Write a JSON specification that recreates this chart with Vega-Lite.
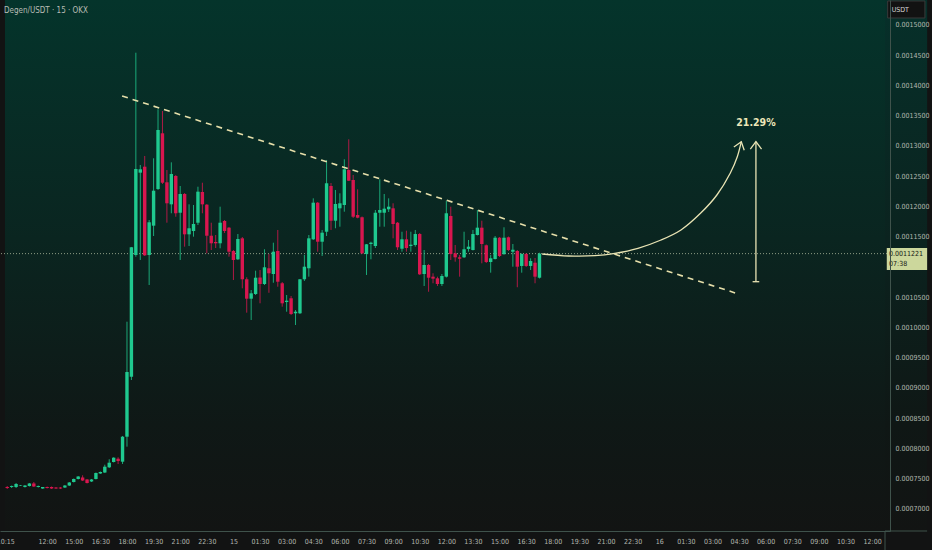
{
  "$schema": "https://vega.github.io/schema/vega-lite/v6.json",
  "description": "Degen/USDT 15m candles with descending trendline and projected breakout",
  "width": 890,
  "height": 531,
  "autosize": {"type": "none"},
  "padding": {"left": 0, "top": 0, "right": 42, "bottom": 19},
  "background": "#121313",
  "title": {
    "text": "Degen/USDT · 15 · OKX",
    "anchor": "start",
    "frame": "group",
    "orient": "top",
    "offset": 0,
    "baseline": "top",
    "dx": 4,
    "dy": 15,
    "fontSize": 8,
    "fontWeight": "normal",
    "font": "DejaVu Sans Condensed, sans-serif",
    "color": "#b9bcb5"
  },
  "config": {
    "view": {"stroke": null},
    "axis": {
      "labelFont": "DejaVu Sans Condensed, sans-serif",
      "labelFontSize": 7,
      "labelColor": "#b3b7b0",
      "domainColor": "#3f524b",
      "ticks": false,
      "grid": false,
      "labelOverlap": false,
      "labelFlush": false,
      "zindex": 1
    }
  },
  "datasets": {
    "candles": [
      {"t": -15, "o": 0.0007364, "h": 0.0007380, "l": 0.0007331, "c": 0.0007347},
      {"t": -14, "o": 0.0007364, "h": 0.0007388, "l": 0.0007347, "c": 0.0007380},
      {"t": -13, "o": 0.0007364, "h": 0.0007430, "l": 0.0007347, "c": 0.0007413},
      {"t": -12, "o": 0.0007388, "h": 0.0007397, "l": 0.0007380, "c": 0.0007397},
      {"t": -11, "o": 0.0007364, "h": 0.0007397, "l": 0.0007355, "c": 0.0007388},
      {"t": -10, "o": 0.0007380, "h": 0.0007430, "l": 0.0007372, "c": 0.0007422},
      {"t": -9, "o": 0.0007422, "h": 0.0007446, "l": 0.0007364, "c": 0.0007372},
      {"t": -8, "o": 0.0007364, "h": 0.0007388, "l": 0.0007355, "c": 0.0007380},
      {"t": -7, "o": 0.0007339, "h": 0.0007364, "l": 0.0007331, "c": 0.0007364},
      {"t": -6, "o": 0.0007364, "h": 0.0007372, "l": 0.0007339, "c": 0.0007347},
      {"t": -5, "o": 0.0007364, "h": 0.0007372, "l": 0.0007331, "c": 0.0007339},
      {"t": -4, "o": 0.0007355, "h": 0.0007364, "l": 0.0007331, "c": 0.0007339},
      {"t": -3, "o": 0.0007355, "h": 0.0007364, "l": 0.0007331, "c": 0.0007339},
      {"t": -2, "o": 0.0007355, "h": 0.0007397, "l": 0.0007347, "c": 0.0007388},
      {"t": -1, "o": 0.0007388, "h": 0.0007446, "l": 0.0007380, "c": 0.0007438},
      {"t": 0, "o": 0.0007446, "h": 0.0007504, "l": 0.0007438, "c": 0.0007496},
      {"t": 1, "o": 0.0007496, "h": 0.0007545, "l": 0.0007488, "c": 0.0007537},
      {"t": 2, "o": 0.0007521, "h": 0.0007557, "l": 0.0007463, "c": 0.0007471},
      {"t": 3, "o": 0.0007488, "h": 0.0007496, "l": 0.0007422, "c": 0.0007430},
      {"t": 4, "o": 0.0007455, "h": 0.0007496, "l": 0.0007446, "c": 0.0007488},
      {"t": 5, "o": 0.0007496, "h": 0.0007603, "l": 0.0007488, "c": 0.0007595},
      {"t": 6, "o": 0.0007587, "h": 0.0007620, "l": 0.0007579, "c": 0.0007612},
      {"t": 7, "o": 0.0007603, "h": 0.0007732, "l": 0.0007595, "c": 0.0007699},
      {"t": 8, "o": 0.0007689, "h": 0.0007822, "l": 0.0007678, "c": 0.0007765},
      {"t": 9, "o": 0.0007777, "h": 0.0007855, "l": 0.0007769, "c": 0.0007848},
      {"t": 10, "o": 0.0007831, "h": 0.0007855, "l": 0.0007744, "c": 0.0007793},
      {"t": 11, "o": 0.0007782, "h": 0.0008207, "l": 0.0007744, "c": 0.0008195},
      {"t": 12, "o": 0.0008195, "h": 0.0010096, "l": 0.0008030, "c": 0.0009264},
      {"t": 13, "o": 0.0009187, "h": 0.0011331, "l": 0.0009132, "c": 0.0011326},
      {"t": 14, "o": 0.0011198, "h": 0.0014542, "l": 0.0011170, "c": 0.0012620},
      {"t": 15, "o": 0.0012559, "h": 0.0012686, "l": 0.0011116, "c": 0.0012615},
      {"t": 16, "o": 0.0012658, "h": 0.0012835, "l": 0.0011182, "c": 0.0011193},
      {"t": 17, "o": 0.0011198, "h": 0.0011777, "l": 0.0010702, "c": 0.0011739},
      {"t": 18, "o": 0.0011683, "h": 0.0012797, "l": 0.0011512, "c": 0.0012261},
      {"t": 19, "o": 0.0012289, "h": 0.0013607, "l": 0.0012273, "c": 0.0013265},
      {"t": 20, "o": 0.0013210, "h": 0.0013579, "l": 0.0012372, "c": 0.0012393},
      {"t": 21, "o": 0.0012400, "h": 0.0012603, "l": 0.0011732, "c": 0.0012053},
      {"t": 22, "o": 0.0012036, "h": 0.0012730, "l": 0.0011888, "c": 0.0012537},
      {"t": 23, "o": 0.0012504, "h": 0.0012521, "l": 0.0011831, "c": 0.0011888},
      {"t": 24, "o": 0.0011897, "h": 0.0012339, "l": 0.0011116, "c": 0.0012207},
      {"t": 25, "o": 0.0012207, "h": 0.0012223, "l": 0.0011336, "c": 0.0011540},
      {"t": 26, "o": 0.0011540, "h": 0.0012036, "l": 0.0011347, "c": 0.0011640},
      {"t": 27, "o": 0.0011595, "h": 0.0012025, "l": 0.0011501, "c": 0.0011711},
      {"t": 28, "o": 0.0011732, "h": 0.0012327, "l": 0.0011694, "c": 0.0012245},
      {"t": 29, "o": 0.0012240, "h": 0.0012393, "l": 0.0011888, "c": 0.0012036},
      {"t": 30, "o": 0.0012030, "h": 0.0012041, "l": 0.0011226, "c": 0.0011517},
      {"t": 31, "o": 0.0011517, "h": 0.0011732, "l": 0.0011281, "c": 0.0011392},
      {"t": 32, "o": 0.0011413, "h": 0.0011529, "l": 0.0011314, "c": 0.0011392},
      {"t": 33, "o": 0.0011392, "h": 0.0011997, "l": 0.0011309, "c": 0.0011732},
      {"t": 34, "o": 0.0011760, "h": 0.0011777, "l": 0.0011562, "c": 0.0011595},
      {"t": 35, "o": 0.0011650, "h": 0.0011661, "l": 0.0011170, "c": 0.0011253},
      {"t": 36, "o": 0.0011264, "h": 0.0011281, "l": 0.0010785, "c": 0.0011116},
      {"t": 37, "o": 0.0011127, "h": 0.0011545, "l": 0.0011116, "c": 0.0011463},
      {"t": 38, "o": 0.0011474, "h": 0.0011496, "l": 0.0010648, "c": 0.0010797},
      {"t": 39, "o": 0.0010797, "h": 0.0010830, "l": 0.0010245, "c": 0.0010476},
      {"t": 40, "o": 0.0010476, "h": 0.0010620, "l": 0.0010124, "c": 0.0010565},
      {"t": 41, "o": 0.0010554, "h": 0.0010939, "l": 0.0010537, "c": 0.0010823},
      {"t": 42, "o": 0.0010826, "h": 0.0010950, "l": 0.0010400, "c": 0.0010719},
      {"t": 43, "o": 0.0010719, "h": 0.0011293, "l": 0.0010702, "c": 0.0010995},
      {"t": 44, "o": 0.0010979, "h": 0.0011215, "l": 0.0010574, "c": 0.0010896},
      {"t": 45, "o": 0.0010884, "h": 0.0011402, "l": 0.0010740, "c": 0.0011253},
      {"t": 46, "o": 0.0011264, "h": 0.0011612, "l": 0.0010674, "c": 0.0010757},
      {"t": 47, "o": 0.0010731, "h": 0.0010752, "l": 0.0010344, "c": 0.0010400},
      {"t": 48, "o": 0.0010421, "h": 0.0010537, "l": 0.0010261, "c": 0.0010443},
      {"t": 49, "o": 0.0010483, "h": 0.0010521, "l": 0.0010207, "c": 0.0010223},
      {"t": 50, "o": 0.0010235, "h": 0.0010289, "l": 0.0010041, "c": 0.0010261},
      {"t": 51, "o": 0.0010235, "h": 0.0010802, "l": 0.0010223, "c": 0.0010797},
      {"t": 52, "o": 0.0010797, "h": 0.0011198, "l": 0.0010769, "c": 0.0011005},
      {"t": 53, "o": 0.0010979, "h": 0.0011529, "l": 0.0010840, "c": 0.0011474},
      {"t": 54, "o": 0.0011458, "h": 0.0012135, "l": 0.0011446, "c": 0.0012063},
      {"t": 55, "o": 0.0012063, "h": 0.0012074, "l": 0.0011253, "c": 0.0011418},
      {"t": 56, "o": 0.0011418, "h": 0.0011612, "l": 0.0011182, "c": 0.0011567},
      {"t": 57, "o": 0.0011583, "h": 0.0012769, "l": 0.0011512, "c": 0.0012384},
      {"t": 58, "o": 0.0012339, "h": 0.0012388, "l": 0.0011612, "c": 0.0011765},
      {"t": 59, "o": 0.0011765, "h": 0.0012273, "l": 0.0011640, "c": 0.0012041},
      {"t": 60, "o": 0.0011970, "h": 0.0012218, "l": 0.0011666, "c": 0.0012053},
      {"t": 61, "o": 0.0012025, "h": 0.0012780, "l": 0.0011914, "c": 0.0012615},
      {"t": 62, "o": 0.0012603, "h": 0.0013111, "l": 0.0012422, "c": 0.0012426},
      {"t": 63, "o": 0.0012438, "h": 0.0012521, "l": 0.0011810, "c": 0.0011831},
      {"t": 64, "o": 0.0011860, "h": 0.0012284, "l": 0.0011805, "c": 0.0011815},
      {"t": 65, "o": 0.0011822, "h": 0.0011835, "l": 0.0011215, "c": 0.0011226},
      {"t": 66, "o": 0.0011215, "h": 0.0011380, "l": 0.0010868, "c": 0.0011375},
      {"t": 67, "o": 0.0011380, "h": 0.0011418, "l": 0.0011127, "c": 0.0011402},
      {"t": 68, "o": 0.0011347, "h": 0.0011942, "l": 0.0011314, "c": 0.0011897},
      {"t": 69, "o": 0.0011897, "h": 0.0012450, "l": 0.0011666, "c": 0.0011942},
      {"t": 70, "o": 0.0011897, "h": 0.0012207, "l": 0.0011666, "c": 0.0011964},
      {"t": 71, "o": 0.0011954, "h": 0.0012135, "l": 0.0011909, "c": 0.0011997},
      {"t": 72, "o": 0.0011970, "h": 0.0012053, "l": 0.0011474, "c": 0.0011711},
      {"t": 73, "o": 0.0011732, "h": 0.0011744, "l": 0.0011281, "c": 0.0011326},
      {"t": 74, "o": 0.0011302, "h": 0.0011583, "l": 0.0011253, "c": 0.0011458},
      {"t": 75, "o": 0.0011458, "h": 0.0011600, "l": 0.0011253, "c": 0.0011314},
      {"t": 76, "o": 0.0011347, "h": 0.0011583, "l": 0.0011253, "c": 0.0011369},
      {"t": 77, "o": 0.0011364, "h": 0.0011612, "l": 0.0011336, "c": 0.0011545},
      {"t": 78, "o": 0.0011545, "h": 0.0011562, "l": 0.0010868, "c": 0.0010879},
      {"t": 79, "o": 0.0010884, "h": 0.0011281, "l": 0.0010686, "c": 0.0011033},
      {"t": 80, "o": 0.0011033, "h": 0.0011050, "l": 0.0010591, "c": 0.0010823},
      {"t": 81, "o": 0.0010840, "h": 0.0010896, "l": 0.0010731, "c": 0.0010807},
      {"t": 82, "o": 0.0010813, "h": 0.0010840, "l": 0.0010686, "c": 0.0010719},
      {"t": 83, "o": 0.0010719, "h": 0.0010884, "l": 0.0010686, "c": 0.0010851},
      {"t": 84, "o": 0.0010840, "h": 0.0012096, "l": 0.0010826, "c": 0.0011888},
      {"t": 85, "o": 0.0011843, "h": 0.0011997, "l": 0.0011116, "c": 0.0011215},
      {"t": 86, "o": 0.0011226, "h": 0.0011364, "l": 0.0011088, "c": 0.0011160},
      {"t": 87, "o": 0.0011160, "h": 0.0011198, "l": 0.0010840, "c": 0.0011137},
      {"t": 88, "o": 0.0011160, "h": 0.0011583, "l": 0.0011149, "c": 0.0011293},
      {"t": 89, "o": 0.0011298, "h": 0.0011446, "l": 0.0011253, "c": 0.0011336},
      {"t": 90, "o": 0.0011281, "h": 0.0011612, "l": 0.0011273, "c": 0.0011545},
      {"t": 91, "o": 0.0011529, "h": 0.0011942, "l": 0.0011521, "c": 0.0011650},
      {"t": 92, "o": 0.0011650, "h": 0.0011765, "l": 0.0011061, "c": 0.0011380},
      {"t": 93, "o": 0.0011359, "h": 0.0011372, "l": 0.0011066, "c": 0.0011083},
      {"t": 94, "o": 0.0011083, "h": 0.0011198, "l": 0.0010906, "c": 0.0011144},
      {"t": 95, "o": 0.0011132, "h": 0.0011512, "l": 0.0011124, "c": 0.0011484},
      {"t": 96, "o": 0.0011484, "h": 0.0011496, "l": 0.0011165, "c": 0.0011182},
      {"t": 97, "o": 0.0011215, "h": 0.0011656, "l": 0.0011198, "c": 0.0011484},
      {"t": 98, "o": 0.0011491, "h": 0.0011504, "l": 0.0011264, "c": 0.0011281},
      {"t": 99, "o": 0.0011253, "h": 0.0011380, "l": 0.0011005, "c": 0.0011286},
      {"t": 100, "o": 0.0011264, "h": 0.0011281, "l": 0.0010665, "c": 0.0011005},
      {"t": 101, "o": 0.0011017, "h": 0.0011226, "l": 0.0010906, "c": 0.0011215},
      {"t": 102, "o": 0.0011215, "h": 0.0011231, "l": 0.0011000, "c": 0.0011017},
      {"t": 103, "o": 0.0011017, "h": 0.0011144, "l": 0.0010950, "c": 0.0011099},
      {"t": 104, "o": 0.0011071, "h": 0.0011149, "l": 0.0010731, "c": 0.0010840},
      {"t": 105, "o": 0.0010823, "h": 0.0011236, "l": 0.0010810, "c": 0.0011221}
    ],
    "trend": [
      {"t": 10.9, "p": 0.0013826},
      {"t": 149.1, "p": 0.0010572}
    ],
    "curve": [
      {"t": 105.6, "p": 0.0011215},
      {"t": 111.6, "p": 0.0011182},
      {"t": 117.5, "p": 0.0011187},
      {"t": 122.0, "p": 0.0011226},
      {"t": 127.2, "p": 0.0011309},
      {"t": 132.4, "p": 0.0011446},
      {"t": 136.9, "p": 0.0011612},
      {"t": 141.3, "p": 0.0011887},
      {"t": 145.0, "p": 0.0012190},
      {"t": 148.0, "p": 0.0012549},
      {"t": 149.6, "p": 0.0012823},
      {"t": 150.5, "p": 0.0013071}
    ]
  },
  "layer": [
    {
      "data": {"values": [{}]},
      "mark": {
        "type": "rect",
        "fill": {
          "gradient": "linear",
          "x1": 0, "y1": 0, "x2": 0, "y2": 1,
          "stops": [
            {"offset": 0, "color": "#04342b"},
            {"offset": 0.45, "color": "#0a2520"},
            {"offset": 0.8, "color": "#0f1816"},
            {"offset": 1, "color": "#121413"}
          ]
        }
      },
      "encoding": {
        "x": {"datum": -15.5, "type": "quantitative"},
        "x2": {"datum": 182.9},
        "y": {"datum": 0.00154132, "type": "quantitative"},
        "y2": {"datum": 0.00066363}
      }
    },
    {
      "data": {"values": [{}]},
      "mark": {
        "type": "rect",
        "fill": {
          "gradient": "linear",
          "x1": 0, "y1": 0, "x2": 0, "y2": 1,
          "stops": [
            {"offset": 0, "color": "#06302a"},
            {"offset": 0.45, "color": "#0b231f"},
            {"offset": 0.8, "color": "#0f1715"},
            {"offset": 1, "color": "#121413"}
          ]
        }
      },
      "encoding": {
        "x": {"datum": 182.9, "type": "quantitative"},
        "x2": {"datum": 192.4},
        "y": {"datum": 0.00154132, "type": "quantitative"},
        "y2": {"datum": 0.00066363}
      }
    },
    {
      "data": {"values": [{}]},
      "mark": {"type": "rule", "color": "#8d9c84", "strokeDash": [1, 2], "strokeWidth": 1},
      "encoding": {"y": {"datum": 0.0011221, "type": "quantitative"}}
    },
    {
      "data": {"name": "candles"},
      "mark": {"type": "rule", "strokeWidth": 1, "opacity": 0.8},
      "encoding": {
        "x": {"field": "t", "type": "quantitative"},
        "y": {"field": "l", "type": "quantitative"},
        "y2": {"field": "h"},
        "color": {"condition": {"test": "datum.c < datum.o", "value": "#d8164f"}, "value": "#1fc98f"}
      }
    },
    {
      "data": {"name": "candles"},
      "mark": {"type": "bar", "orient": "vertical", "size": 3.4},
      "encoding": {
        "x": {
          "field": "t",
          "type": "quantitative",
          "scale": {"domain": [-15.5, 182.9], "nice": false, "zero": false},
          "axis": {
            "title": null,
            "labelPadding": 6,
            "labelOverlap": false,
            "tickCount": 60,
            "zindex": 1,
            "values": [-15.45, -6, 0, 6, 12, 18, 24, 30, 36, 42, 48, 54, 60, 66, 72, 78, 84, 90, 96, 102, 108, 114, 120, 126, 132, 138, 144, 150, 156, 162, 168, 174, 180],
            "labelExpr": "['10:15','12:00','15:00','16:30','18:00','19:30','21:00','22:30','15','01:30','03:00','04:30','06:00','07:30','09:00','10:30','12:00','13:30','15:00','16:30','18:00','19:30','21:00','22:30','16','01:30','03:00','04:30','06:00','07:30','09:00','10:30','12:00'][indexof([-15.45,-6,0,6,12,18,24,30,36,42,48,54,60,66,72,78,84,90,96,102,108,114,120,126,132,138,144,150,156,162,168,174,180], datum.value)]"
          }
        },
        "y": {
          "field": "o",
          "type": "quantitative",
          "scale": {"domain": [0.00066363, 0.00154132], "nice": false, "zero": false},
          "axis": {
            "orient": "right",
            "title": null,
            "labelPadding": 5,
            "labelOverlap": false,
            "tickCount": 40,
            "zindex": 1,
            "format": ".7f",
            "values": [0.0007, 0.00075, 0.0008, 0.00085, 0.0009, 0.00095, 0.001, 0.00105, 0.00115, 0.0012, 0.00125, 0.0013, 0.00135, 0.0014, 0.00145, 0.0015]
          }
        },
        "y2": {"field": "c"},
        "color": {"condition": {"test": "datum.c < datum.o", "value": "#d8164f"}, "value": "#1fc98f"}
      }
    },
    {
      "data": {"name": "trend"},
      "mark": {"type": "line", "color": "#e6dfaa", "strokeWidth": 1.6, "strokeDash": [6, 5]},
      "encoding": {
        "x": {"field": "t", "type": "quantitative"},
        "y": {"field": "p", "type": "quantitative"}
      }
    },
    {
      "data": {"name": "curve"},
      "mark": {"type": "line", "color": "#e9e4b4", "strokeWidth": 1.3, "interpolate": "catmull-rom"},
      "encoding": {
        "x": {"field": "t", "type": "quantitative"},
        "y": {"field": "p", "type": "quantitative"}
      }
    },
    {
      "data": {"values": [{}]},
      "mark": {"type": "point", "shape": "M-0.6,0.8L0,0L0.6,0.8", "size": 330, "angle": 18, "filled": false, "stroke": "#e9e4b4", "strokeWidth": 1.3, "opacity": 1},
      "encoding": {
        "x": {"datum": 150.5, "type": "quantitative"},
        "y": {"datum": 0.0013071, "type": "quantitative"}
      }
    },
    {
      "data": {"values": [{}]},
      "mark": {"type": "rule", "color": "#e9e4b4", "strokeWidth": 1.3},
      "encoding": {
        "x": {"datum": 153.8, "type": "quantitative"},
        "y": {"datum": 0.0010757, "type": "quantitative"},
        "y2": {"datum": 0.0013071}
      }
    },
    {
      "data": {"values": [{}]},
      "mark": {"type": "point", "shape": "M-0.6,0.8L0,0L0.6,0.8", "size": 350, "filled": false, "stroke": "#e9e4b4", "strokeWidth": 1.3, "opacity": 1},
      "encoding": {
        "x": {"datum": 153.8, "type": "quantitative"},
        "y": {"datum": 0.0013071, "type": "quantitative"}
      }
    },
    {
      "data": {"values": [{}]},
      "mark": {"type": "point", "shape": "M-1,0L1,0", "size": 44, "filled": false, "stroke": "#e9e4b4", "strokeWidth": 1.3, "opacity": 1},
      "encoding": {
        "x": {"datum": 153.8, "type": "quantitative"},
        "y": {"datum": 0.0010757, "type": "quantitative"}
      }
    },
    {
      "data": {"values": [{}]},
      "mark": {"type": "text", "text": "21.29%", "font": "DejaVu Sans Condensed, sans-serif", "fontSize": 10.5, "fontWeight": "bold", "color": "#ece6b8", "align": "center", "baseline": "middle"},
      "encoding": {
        "x": {"datum": 153.8, "type": "quantitative"},
        "y": {"datum": 0.0013375, "type": "quantitative"}
      }
    },
    {
      "data": {"values": [{}]},
      "mark": {"type": "rule", "color": "#3f524b", "strokeWidth": 1},
      "encoding": {
        "x": {"datum": 182.9, "type": "quantitative"},
        "y": {"datum": 0.00066363, "type": "quantitative"},
        "y2": {"datum": 0.0006322}
      }
    },
    {
      "data": {"values": [{}]},
      "mark": {"type": "rule", "color": "#3f524b", "strokeWidth": 1},
      "encoding": {
        "x": {"datum": 182.9, "type": "quantitative"},
        "x2": {"datum": 192.4},
        "y": {"datum": 0.00066363, "type": "quantitative"}
      }
    },
    {
      "data": {"values": [{}]},
      "mark": {"type": "rect", "fill": "#ccd79c"},
      "encoding": {
        "x": {"datum": 183.3, "type": "quantitative"},
        "x2": {"datum": 192.4},
        "y": {"datum": 0.0011314, "type": "quantitative"},
        "y2": {"datum": 0.001095}
      }
    },
    {
      "data": {"values": [{}]},
      "mark": {"type": "text", "text": ["0.0011221", "07:38"], "lineHeight": 10, "font": "DejaVu Sans Condensed, sans-serif", "fontSize": 7, "color": "#161815", "align": "left", "baseline": "top", "dy": 2},
      "encoding": {
        "x": {"datum": 183.8, "type": "quantitative"},
        "y": {"datum": 0.0011314, "type": "quantitative"}
      }
    },
    {
      "data": {"values": [{}]},
      "mark": {"type": "rect", "fill": "#121212", "stroke": "#3a3a3a", "strokeWidth": 1},
      "encoding": {
        "x": {"datum": 183.5, "type": "quantitative"},
        "x2": {"datum": 191.9},
        "y": {"datum": 0.0015397, "type": "quantitative"},
        "y2": {"datum": 0.0015116}
      }
    },
    {
      "data": {"values": [{}]},
      "mark": {"type": "text", "text": "USDT", "font": "DejaVu Sans Condensed, sans-serif", "fontSize": 7, "color": "#d6d6d6", "align": "left", "baseline": "middle"},
      "encoding": {
        "x": {"datum": 184.4, "type": "quantitative"},
        "y": {"datum": 0.0015256, "type": "quantitative"}
      }
    }
  ]
}
